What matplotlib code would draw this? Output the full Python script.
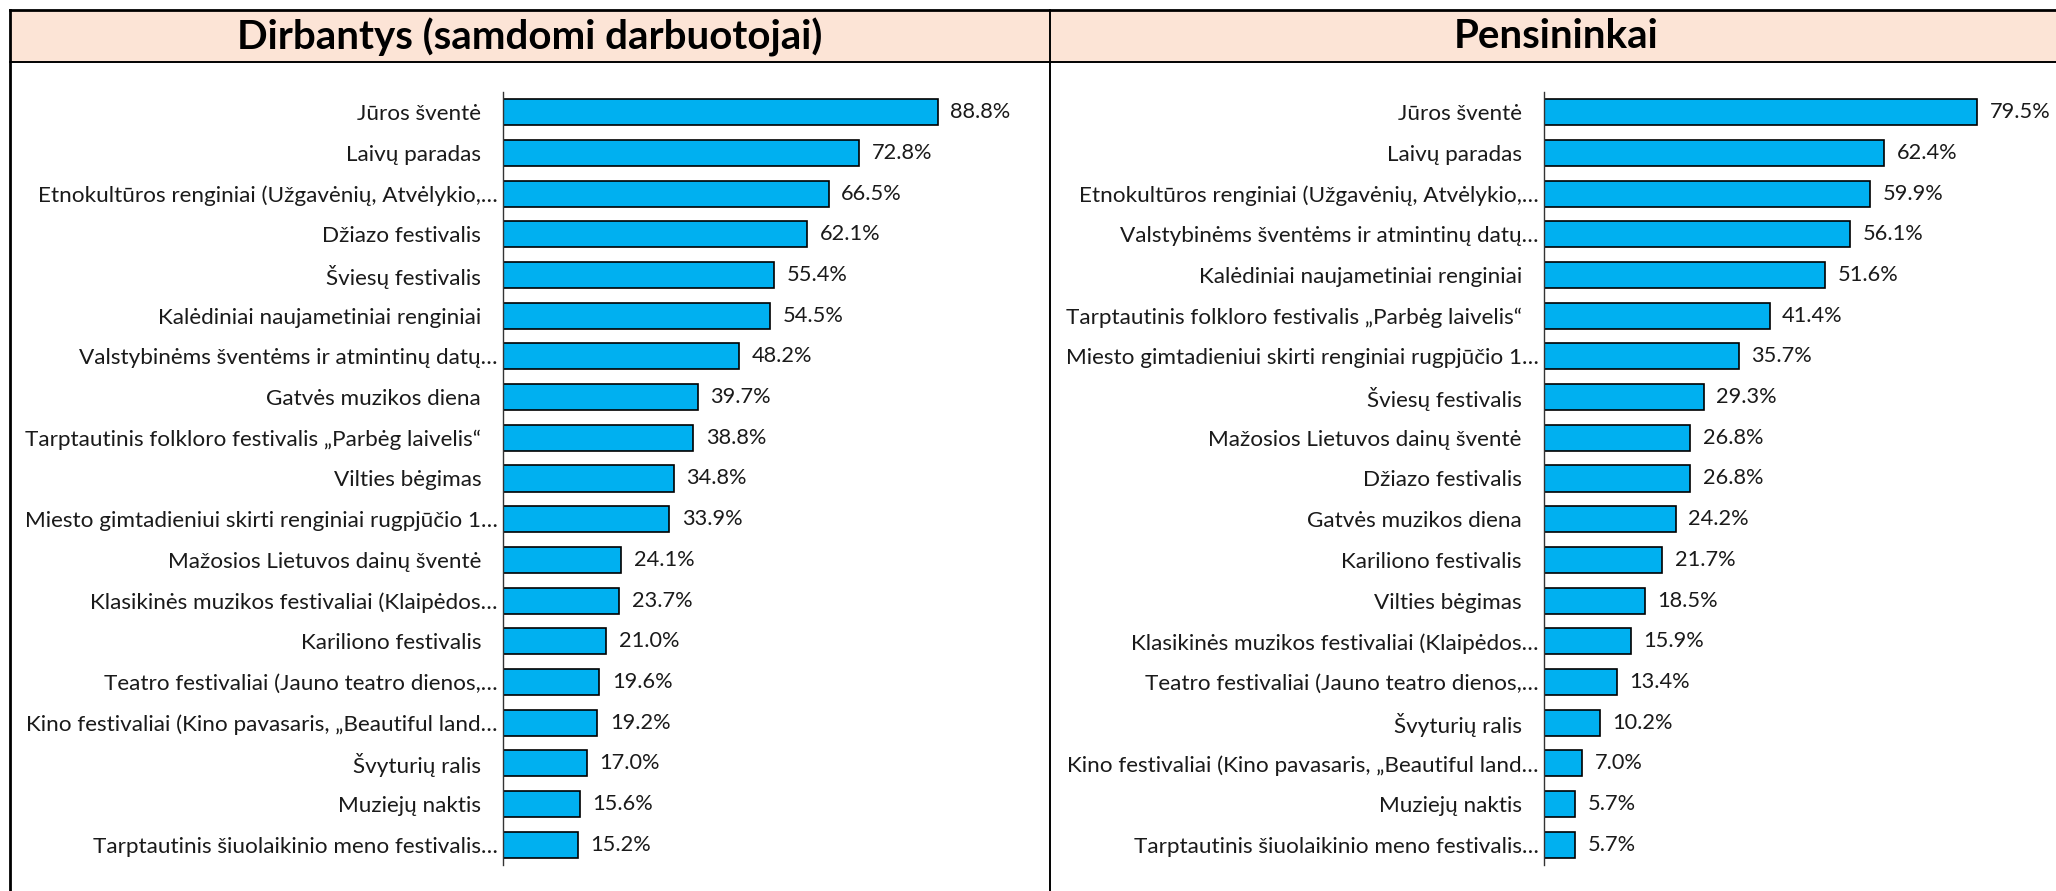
import matplotlib
matplotlib.use("Agg")
import matplotlib.pyplot as plt
import matplotlib.transforms as mtransforms
from matplotlib.patches import Rectangle
from matplotlib.lines import Line2D

plt.rcParams['font.family'] = ['Lato', 'DejaVu Sans']

# data
left_title = 'Dirbantys (samdomi darbuotojai)'
left_labels = [
    'Jūros šventė',
    'Laivų paradas',
    'Etnokultūros renginiai (Užgavėnių, Atvėlykio,…',
    'Džiazo festivalis',
    'Šviesų festivalis',
    'Kalėdiniai naujametiniai renginiai',
    'Valstybinėms šventėms ir atmintinų datų…',
    'Gatvės muzikos diena',
    'Tarptautinis folkloro festivalis „Parbėg laivelis“',
    'Vilties bėgimas',
    'Miesto gimtadieniui skirti renginiai rugpjūčio 1…',
    'Mažosios Lietuvos dainų šventė',
    'Klasikinės muzikos festivaliai (Klaipėdos…',
    'Kariliono festivalis',
    'Teatro festivaliai (Jauno teatro dienos,…',
    'Kino festivaliai (Kino pavasaris, „Beautiful land…',
    'Švyturių ralis',
    'Muziejų naktis',
    'Tarptautinis šiuolaikinio meno festivalis…',
]
left_values = [88.8, 72.8, 66.5, 62.1, 55.4, 54.5, 48.2, 39.7, 38.8, 34.8,
               33.9, 24.1, 23.7, 21.0, 19.6, 19.2, 17.0, 15.6, 15.2]

right_title = 'Pensininkai'
right_labels = [
    'Jūros šventė',
    'Laivų paradas',
    'Etnokultūros renginiai (Užgavėnių, Atvėlykio,…',
    'Valstybinėms šventėms ir atmintinų datų…',
    'Kalėdiniai naujametiniai renginiai',
    'Tarptautinis folkloro festivalis „Parbėg laivelis“',
    'Miesto gimtadieniui skirti renginiai rugpjūčio 1…',
    'Šviesų festivalis',
    'Mažosios Lietuvos dainų šventė',
    'Džiazo festivalis',
    'Gatvės muzikos diena',
    'Kariliono festivalis',
    'Vilties bėgimas',
    'Klasikinės muzikos festivaliai (Klaipėdos…',
    'Teatro festivaliai (Jauno teatro dienos,…',
    'Švyturių ralis',
    'Kino festivaliai (Kino pavasaris, „Beautiful land…',
    'Muziejų naktis',
    'Tarptautinis šiuolaikinio meno festivalis…',
]
right_values = [79.5, 62.4, 59.9, 56.1, 51.6, 41.4, 35.7, 29.3, 26.8, 26.8,
                24.2, 21.7, 18.5, 15.9, 13.4, 10.2, 7.0, 5.7, 5.7]

W, H = 2056, 891
fig = plt.figure(figsize=(W / 100, H / 100), dpi=100)
fig.patch.set_facecolor('white')


def px(x, y):
    return x / W, 1 - y / H


# frames and headers
header_top, header_bot = 10, 62
fig.patches.append(Rectangle(px(10, header_bot), (W - 10) / W, (header_bot - header_top) / H,
                             transform=fig.transFigure, facecolor='#FCE4D6', edgecolor='none', zorder=0))
for xs, ys, lw in [([10, W], [header_top, header_top], 2.0),
                   ([10, W], [header_bot, header_bot], 1.4),
                   ([10, 10], [header_top, H], 2.0),
                   ([1050, 1050], [header_top, H], 1.4)]:
    fig.add_artist(Line2D([x / W for x in xs], [1 - y / H for y in ys],
                          transform=fig.transFigure, color='black', lw=lw))

fig.text(530 / W, 1 - 37 / H, left_title, ha='center', va='center',
         fontsize=29, fontweight='bold')
fig.text(1556 / W, 1 - 37 / H, right_title, ha='center', va='center',
         fontsize=29, fontweight='bold')


def draw_panel(rect, labels, values, xmax):
    ax = fig.add_axes(rect)
    y = list(range(len(labels)))
    bars = ax.barh(y, values, height=0.64, color='#00B0F0',
                   edgecolor='black', linewidth=1.2)
    ax.set_xlim(0, xmax)
    ax.set_ylim(len(labels) - 0.5, -0.5)
    ax.set_yticks(y)
    ax.set_yticklabels(labels, fontsize=16.2, color='#1a1a1a')
    ax.tick_params(axis='y', length=0, pad=4)
    ax.set_xticks([])
    for s in ['top', 'right', 'bottom']:
        ax.spines[s].set_visible(False)
    ax.spines['left'].set_linewidth(1.0)
    ax.spines['left'].set_color('#333333')
    ax.patch.set_alpha(0)
    # labels that are not cut off sit a bit further from the axis
    shift = mtransforms.ScaledTranslation(-12 / 72, 0, fig.dpi_scale_trans)
    for lbl in ax.get_yticklabels():
        if not lbl.get_text().endswith('…'):
            lbl.set_transform(lbl.get_transform() + shift)
    ax.bar_label(bars, labels=['%.1f%%' % v for v in values], padding=9,
                 fontsize=15.7, color='#1a1a1a')
    return ax


ax_bottom = 26 / H
ax_height = (865 - 92) / H
draw_panel([503.4 / W, ax_bottom, 489 / W, ax_height], left_labels, left_values, 100)
draw_panel([1544 / W, ax_bottom, 490.5 / W, ax_height], right_labels, right_values, 90)

fig.savefig('out.png', dpi=100)
